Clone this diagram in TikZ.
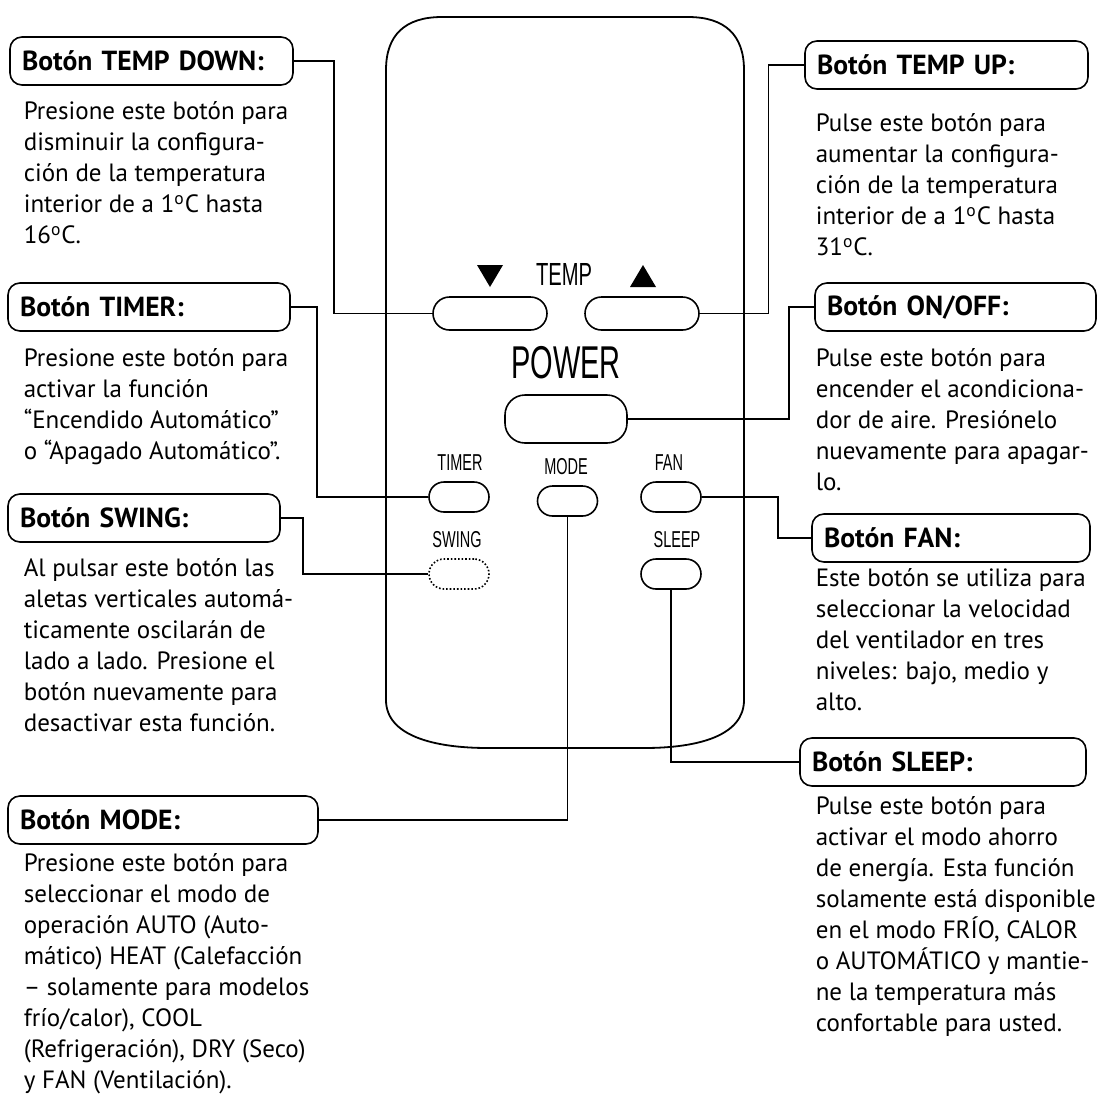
\documentclass[tikz,border=0pt]{standalone}
\usepackage{fontspec}
\setmainfont{PT Sans}
\newfontfamily\remotefont[FakeStretch=0.63]{Liberation Sans}

\begin{document}
\begin{tikzpicture}[x=0.5pt,y=-0.5pt,line width=0.8pt,
  btn/.style={draw,rounded corners=7.5pt,minimum width=30pt,minimum height=15pt,inner sep=0pt},
  bigbtn/.style={btn,rounded corners=8.25pt,minimum width=57pt,minimum height=16.5pt},
  lbl/.style={inner sep=0pt,font=\remotefont\fontsize{11.5}{12}\selectfont},
  hdr/.style={draw,rounded corners=6pt,minimum height=24pt,inner xsep=6pt,inner ysep=0pt,
    align=left,text width=#1,font=\bfseries\fontsize{13.8}{15}\selectfont},
  desc/.style={anchor=north west,inner sep=0pt,align=left,font=\fontsize{12.5}{15.5}\selectfont,
    execute at begin node=\strut},
  conn/.style={line width=0.7pt}]
  \useasboundingbox (0,0) rectangle (1100,1115);
  % remote body
  \draw[line width=0.9pt] (386,700) -- (386,70) .. controls (386,35) and (405,17) .. (442,17)
    -- (688,17) .. controls (725,17) and (744,35) .. (744,70) -- (744,700)
    .. controls (744,735) and (700,748) .. (644,748) -- (488,748)
    .. controls (432,748) and (386,735) .. (386,700) -- cycle;
  % temperature keys
  \fill (477,265) -- (503,265) -- (490,287) -- cycle;
  \fill (630,287) -- (656,287) -- (643,265) -- cycle;
  \node[lbl,font=\remotefont\fontsize{16}{16}\selectfont] (templbl) at (564,274) {TEMP};
  \node[bigbtn] (tdown) at (490,313.5) {};
  \node[bigbtn] (tup) at (642,313.5) {};
  % power key
  \node[lbl,font=\remotefont\fontsize{23}{23}\selectfont] (powerlbl) at (566,363) {POWER};
  \node[draw,rounded corners=10pt,minimum width=61pt,minimum height=24pt] (power) at (566,419) {};
  % small keys
  \node[lbl] (timerlbl) at (460,463) {TIMER};
  \node[lbl] (modelbl) at (566,467) {MODE};
  \node[lbl] (fanlbl) at (669,463) {FAN};
  \node[lbl] (swinglbl) at (457,540) {SWING};
  \node[lbl] (sleeplbl) at (677,540) {SLEEP};
  \node[btn] (timer) at (459,497) {};
  \node[btn] (mode) at (567.5,501) {};
  \node[btn] (fan) at (671,497) {};
  \node[btn,densely dotted] (swing) at (459,574) {};
  \node[btn] (sleep) at (671,574) {};

  % left column
  \node[hdr=129.5pt] (tdownbox) at (151.5,61) {Botón TEMP DOWN:};
  \node[desc] (tdowntxt) at (23,101) {Presione este botón para\\disminuir la configura-\\ción de la temperatura\\interior de a 1\textsuperscript{o}C hasta\\16\textsuperscript{o}C.};
  \node[hdr=129pt] (timerbox) at (149,307) {Botón TIMER:};
  \node[desc] (timertxt) at (23,348) {Presione este botón para\\activar la función\\“Encendido Automático”\\o “Apagado Automático”.};
  \node[hdr=124pt] (swingbox) at (144,518) {Botón SWING:};
  \node[desc] (swingtxt) at (23,558) {Al pulsar este botón las\\aletas verticales automá-\\ticamente oscilarán de\\lado a lado. Presione el\\botón nuevamente para\\desactivar esta función.};
  \node[hdr=143pt] (modebox) at (163,820) {Botón MODE:};
  \node[desc] (modetxt) at (23,853) {Presione este botón para\\seleccionar el modo de\\operación AUTO (Auto-\\mático) HEAT (Calefacción\\– solamente para modelos\\frío/calor), COOL\\(Refrigeración), DRY (Seco)\\y FAN (Ventilación).};

  % right column
  \node[hdr=129.5pt] (tupbox) at (946.5,65) {Botón TEMP UP:};
  \node[desc] (tuptxt) at (815,113) {Pulse este botón para\\aumentar la configura-\\ción de la temperatura\\interior de a 1\textsuperscript{o}C hasta\\31\textsuperscript{o}C.};
  \node[hdr=128.5pt] (onoffbox) at (955.5,307) {Botón ON/OFF:};
  \node[desc] (onofftxt) at (815,348) {Pulse este botón para\\encender el acondiciona-\\dor de aire. Presiónelo\\nuevamente para apagar-\\lo.};
  \node[hdr=127pt] (fanbox) at (951,538) {Botón FAN:};
  \node[desc] (fantxt) at (815,568) {Este botón se utiliza para\\seleccionar la velocidad\\del ventilador en tres\\niveles: bajo, medio y\\alto.};
  \node[hdr=131pt] (sleepbox) at (943,762) {Botón SLEEP:};
  \node[desc] (sleeptxt) at (815,796) {Pulse este botón para\\activar el modo ahorro\\de energía. Esta función\\solamente está disponible\\en el modo FRÍO, CALOR\\o AUTOMÁTICO y mantie-\\ne la temperatura más\\confortable para usted.};

  % leader lines
  \draw[conn] (tdownbox.east) -- ++(40,0) |- (tdown.west);
  \draw[conn] (tupbox.west) -- ++(-36,0) |- (tup.east);
  \draw[conn] (power.east) -- ++(161,0) |- (onoffbox.west);
  \draw[conn] (timerbox.east) -- ++(26,0) |- (timer.west);
  \draw[conn] (swingbox.east) -- ++(22,0) |- (swing.west);
  \draw[conn] (mode.south) |- (modebox.east);
  \draw[conn] (fan.east) -- ++(76,0) |- (fanbox.west);
  \draw[conn] (sleep.south) |- (sleepbox.west);
\end{tikzpicture}
\end{document}
